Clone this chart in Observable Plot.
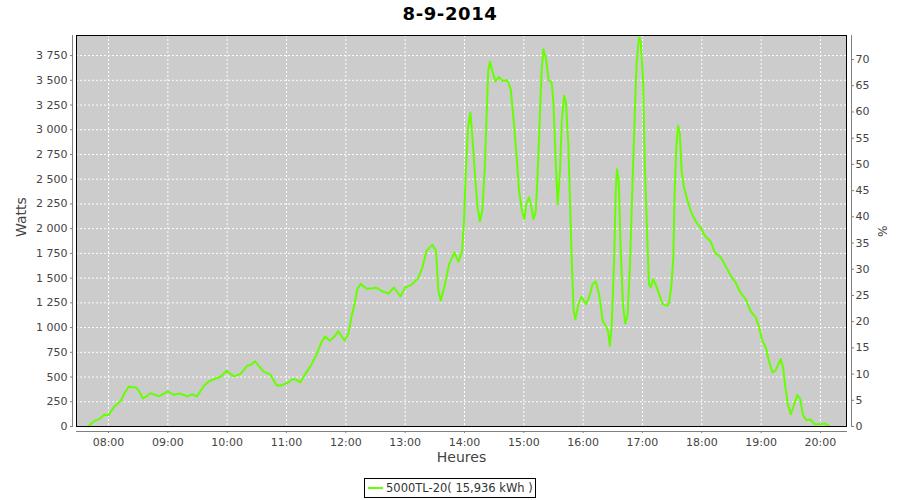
<!DOCTYPE html>
<html>
<head>
<meta charset="utf-8">
<script src="https://cdn.jsdelivr.net/npm/d3@7"></script>
<script src="https://cdn.jsdelivr.net/npm/@observablehq/plot@0.6"></script>
<style>
  body { margin: 0; background: #fff; font-family: "DejaVu Sans", sans-serif; }
  #wrap { position: relative; width: 900px; height: 500px; overflow: hidden; }
  #title { position: absolute; left: 0; top: 2px; width: 900px; text-align: center;
           font: bold 18px "DejaVu Sans", sans-serif; letter-spacing: 0.6px; color: #000; line-height: 24px; }
  #chart { position: absolute; left: 0; top: 30px; }
  #legend { position: absolute; left: 364px; top: 478px; width: 172px; height: 20px; box-sizing: border-box;
            border: 1px solid #000; padding: 0 0 0 3px; display: flex; align-items: center;
            font: 11.5px "DejaVu Sans", sans-serif; color: #333; white-space: nowrap; }
  #legend .sw { display: inline-block; width: 15px; height: 2px; margin-right: 3px; }
</style>
</head>
<body>
<div id="wrap">
  <div id="title"></div>
  <div id="chart"></div>
  <div id="legend"></div>
</div>
<script>
// ---- data ----
const chartTitle = "8-9-2014";
const seriesName = "5000TL-20( 15,936 kWh )";
const seriesColor = "#66ff00";
const yLabel = "Watts";
const y2Label = "%";
const xLabel = "Heures";

// time of day, decimal hours
const hours = [
  7.66, 7.76, 7.84, 7.93, 8.00, 8.095, 8.21, 8.26, 8.34, 8.46, 8.51, 8.58, 8.64, 8.71, 8.85,
  9.00, 9.10, 9.20, 9.33, 9.41, 9.49, 9.61, 9.69, 9.80, 9.89, 9.99, 10.11, 10.22, 10.34, 10.40,
  10.47, 10.61, 10.73, 10.83, 10.89, 11.01, 11.11, 11.16, 11.23, 11.31, 11.41, 11.51, 11.59, 11.65,
  11.73, 11.81, 11.87, 11.98, 12.04, 12.10, 12.15, 12.19, 12.25, 12.35, 12.46,
  12.51, 12.62, 12.72, 12.81, 12.92, 13.00, 13.10, 13.22, 13.29, 13.36, 13.46, 13.52, 13.56, 13.60,
  13.67, 13.74, 13.83, 13.90, 13.96, 13.99, 14.02, 14.06, 14.10, 14.13, 14.18, 14.22, 14.26, 14.30,
  14.34, 14.38, 14.40, 14.43, 14.47, 14.52, 14.58, 14.64, 14.72, 14.78, 14.83, 14.88, 14.92, 14.97,
  15.01, 15.04, 15.09, 15.13, 15.16, 15.20, 15.23, 15.27, 15.30, 15.33, 15.37, 15.42, 15.47, 15.50,
  15.54, 15.57, 15.58, 15.61, 15.64, 15.68, 15.71, 15.75, 15.78, 15.81, 15.84, 15.87, 15.92, 15.97,
  16.05, 16.10, 16.16, 16.21, 16.27, 16.33, 16.38, 16.42, 16.45, 16.48, 16.52, 16.55, 16.57, 16.60,
  16.63, 16.67, 16.71, 16.75, 16.79, 16.83, 16.87, 16.90, 16.94, 16.97, 17.01, 17.04, 17.08, 17.11,
  17.14, 17.18, 17.22, 17.28, 17.34, 17.42, 17.45, 17.49, 17.52, 17.54, 17.57, 17.60, 17.63, 17.66,
  17.70, 17.76, 17.83, 17.91, 17.98, 18.05, 18.15, 18.22, 18.32, 18.40, 18.49, 18.57, 18.65, 18.74,
  18.82, 18.91, 18.96, 19.02, 19.08, 19.13, 19.19, 19.24, 19.33, 19.37, 19.41, 19.45, 19.50, 19.54,
  19.61, 19.66, 19.70, 19.76, 19.83, 19.90, 20.00, 20.08, 20.14
];
// power, W
const watts = [
  0, 57, 74, 118, 115, 199, 260, 328, 402, 395, 361, 284, 304, 338, 304,
  355, 321, 334, 304, 328, 304, 412, 456, 483, 503, 564, 507, 530, 615, 625,
  659, 557, 524, 419, 412, 439, 480, 473, 446, 524, 615, 733, 851, 909,
  868, 909, 963, 868, 936, 1122, 1240, 1382, 1442, 1392, 1398,
  1405, 1365, 1345, 1405, 1314, 1405, 1429, 1500, 1607, 1776, 1837, 1776, 1372, 1271,
  1439, 1641, 1759, 1665, 1776, 2046, 2551, 3023, 3175, 2955, 2517, 2214, 2073, 2180,
  2585, 3259, 3596, 3687, 3596, 3488, 3535, 3495, 3501, 3410, 3090, 2720, 2383, 2180,
  2096, 2248, 2315, 2214, 2096, 2164, 2517, 3124, 3596, 3815, 3731, 3501, 3478, 3259,
  2652, 2248, 2315, 2585, 3090, 3343, 3276, 2854, 2248, 1641, 1170, 1085, 1237, 1311,
  1237, 1304, 1439, 1466, 1338, 1068, 1018, 967, 816, 1001, 1641, 2383, 2602, 2484,
  1843, 1237, 1041, 1136, 1641, 2416, 3158, 3663, 3933, 3899, 3495, 2652, 1911, 1439,
  1405, 1490, 1439, 1338, 1237, 1220, 1254, 1439, 1709, 2315, 2821, 3040, 2955, 2585,
  2416, 2281, 2153, 2062, 2012, 1928, 1870, 1759, 1709, 1624, 1523, 1456, 1355, 1287,
  1170, 1102, 1018, 866, 799, 664, 546, 563, 681, 597, 394, 226, 125, 192,
  320, 276, 125, 64, 71, 24, 24, 30, 7
];

const hourTicks = d3.range(8, 21);          // 08:00 … 20:00
const wattTicks = d3.range(0, 3751, 250);   // 0 … 3 750
const pctTicks = d3.range(0, 71, 5);        // 0 … 70 %
const ratedWatts = 5300;                    // 100 % on the right axis
const xDomain = [7.4606, 20.439];
const yDomain = [0, 3953];

// ---- build ----
const data = hours.map((h, i) => ({ h, w: watts[i] }));
const fmtW = d => d3.format(",")(d).replace(/,/g, "\u00a0");
const fmtH = h => String(h).padStart(2, "0") + ":00";
const pctAsWatts = pctTicks.map(p => p / 100 * ratedWatts);

document.getElementById("title").textContent = chartTitle;

const gridStyle = { stroke: "#ffffff", strokeOpacity: 1, strokeWidth: 1, strokeDasharray: "2,2" };
const axisStyle = { stroke: "#808080", fill: "#444444", tickSize: 2, label: null, fontSize: 11 };

const chart = Plot.plot({
  width: 900,
  height: 440,
  marginTop: 5,
  marginBottom: 44,
  marginLeft: 76,
  marginRight: 54,
  style: { fontFamily: "DejaVu Sans, sans-serif", fontSize: "11px", background: "transparent", color: "#444" },
  x: { domain: xDomain },
  y: { domain: yDomain },
  marks: [
    Plot.frame({ fill: "#cccccc" }),
    Plot.gridX(hourTicks, gridStyle),
    Plot.gridY(wattTicks, gridStyle),
    Plot.line(data, { x: "h", y: "w", stroke: seriesColor, strokeWidth: 2 }),
    Plot.frame({ stroke: "#000000" }),
    Plot.frame({ anchor: "left", dx: -4, stroke: "#808080" }),
    Plot.frame({ anchor: "right", dx: 5, stroke: "#808080" }),
    Plot.frame({ anchor: "bottom", dy: 5, stroke: "#808080" }),
    Plot.axisY(wattTicks, { ...axisStyle, anchor: "left", dx: -4, tickPadding: 3, tickFormat: fmtW }),
    Plot.axisY(pctAsWatts, { ...axisStyle, anchor: "right", dx: 5, tickPadding: 2,
      tickFormat: d => String(Math.round(d / ratedWatts * 100)) }),
    Plot.axisX(hourTicks, { ...axisStyle, anchor: "bottom", dy: 5, tickPadding: 5, tickFormat: fmtH }),
    Plot.text([yLabel], { text: d => d, frameAnchor: "left", dx: -55, dy: 6, rotate: -90,
      fontSize: 14, fill: "#444444" }),
    Plot.text([y2Label], { text: d => d, frameAnchor: "right", dx: 35, dy: 6, rotate: 90,
      fontSize: 12, fill: "#444444" }),
    Plot.text([xLabel], { text: d => d, frameAnchor: "bottom", dy: 35, fontSize: 14, fill: "#444444" })
  ]
});
document.getElementById("chart").appendChild(chart);

const lg = document.getElementById("legend");
const sw = document.createElement("span");
sw.className = "sw";
sw.style.background = seriesColor;
lg.appendChild(sw);
lg.appendChild(document.createTextNode(seriesName));
</script>
</body>
</html>
